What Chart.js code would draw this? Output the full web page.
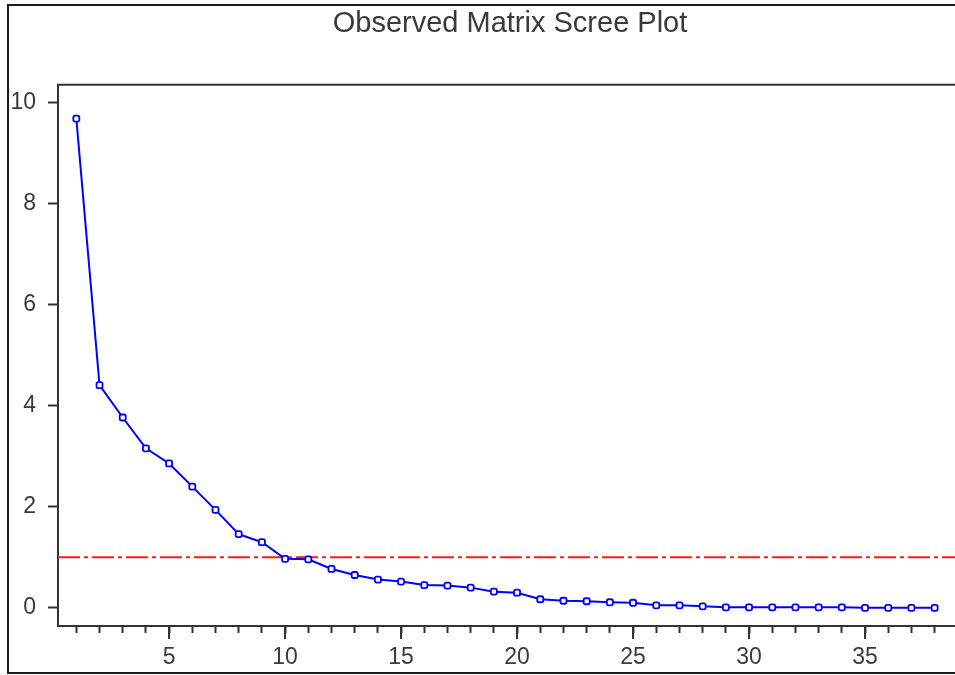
<!DOCTYPE html>
<html>
<head>
<meta charset="utf-8">
<title>Observed Matrix Scree Plot</title>
<script src="https://cdn.jsdelivr.net/npm/chart.js@4.4.1/dist/chart.umd.min.js"></script>
<style>
    html, body { margin: 0; padding: 0; overflow: hidden; background: #fff; width: 955px; height: 675px; }
    #frame { position: absolute; left: 7px; top: 4px; width: 1040px; height: 666px; border: 2px solid #1a1a1a; }
    #scree { position: absolute; left: 0; top: 0; }
</style>
</head>
<body>
<div id="frame"></div>
<canvas id="scree" width="1020" height="675"></canvas>
<script>
// ============ DATA ============

const components = [1, 2, 3, 4, 5, 6, 7, 8, 9, 10, 11, 12, 13, 14, 15, 16, 17, 18, 19,
    20, 21, 22, 23, 24, 25, 26, 27, 28, 29, 30, 31, 32, 33, 34, 35, 36, 37, 38];
const eigenvalues = [9.69, 4.41, 3.77, 3.16, 2.86, 2.40, 1.94, 1.46, 1.30, 0.97,
    0.96, 0.77, 0.65, 0.56, 0.52, 0.45, 0.44, 0.40, 0.32, 0.30,
    0.17, 0.14, 0.13, 0.11, 0.10, 0.05, 0.05, 0.03, 0.01, 0.01,
    0.01, 0.01, 0.01, 0.01, 0.00, 0.00, 0.00, 0.00];
const cutoff = 1;
const xLabelValues = [5, 10, 15, 20, 25, 30, 35];
const yTickValues = [0, 2, 4, 6, 8, 10];

const xMin = 0.21;
const xMax = 41.43;
const yMin = -0.36;
const yMax = 10.36;

// ============ STYLE ============

const fontFamily = "'Liberation Sans', Arial, sans-serif";
const axisColor = "#333333";
const textColor = "#3a3a3a";

// top edge of the box + longer marks under labelled x ticks
const framePlugin = {
    id: "frameExtras",
    afterDraw(chart) {
        const { ctx, chartArea, scales } = chart;
        ctx.save();
        ctx.strokeStyle = axisColor;
        ctx.lineWidth = 2;
        ctx.beginPath();
        ctx.moveTo(chartArea.left - 1, chartArea.top);
        ctx.lineTo(chartArea.right, chartArea.top);
        ctx.stroke();
        xLabelValues.forEach(v => {
            const px = Math.round(scales.x.getPixelForValue(v));
            ctx.beginPath();
            ctx.moveTo(px, chartArea.bottom);
            ctx.lineTo(px, chartArea.bottom + 13);
            ctx.stroke();
        });
        ctx.restore();
    }
};

// ============ CHART ============

const ctx = document.getElementById("scree").getContext("2d");

new Chart(ctx, {
    type: "line",
    data: {
        datasets: [
            {
                label: "Eigenvalue",
                data: components.map((c, i) => ({ x: c, y: eigenvalues[i] })),
                borderColor: "#0000ff",
                borderWidth: 2,
                pointStyle: "rectRounded",
                pointRadius: 3.5,
                pointBackgroundColor: "#ffffff",
                pointBorderColor: "#0000ff",
                pointBorderWidth: 1.8,
                tension: 0,
                order: 0,
            },
            {
                label: "Cutoff",
                data: [{ x: xMin, y: cutoff }, { x: xMax, y: cutoff }],
                borderColor: "#ff1a1a",
                borderWidth: 2,
                borderDash: [22, 4, 4, 4],
                pointRadius: 0,
                order: 1,
            }
        ]
    },
    options: {
        responsive: false,
        animation: false,
        layout: { padding: 0 },
        scales: {
            x: {
                type: "linear",
                min: xMin,
                max: xMax,
                afterBuildTicks: s => { s.ticks = components.map(v => ({ value: v })); },
                afterFit: s => { s.height = 49; },
                grid: { drawOnChartArea: false, tickLength: 7, tickColor: axisColor, tickWidth: 2 },
                border: { color: axisColor, width: 2 },
                ticks: {
                    autoSkip: false,
                    maxRotation: 0,
                    padding: 11,
                    color: textColor,
                    font: { family: fontFamily, size: 23 },
                    callback: v => xLabelValues.includes(v) ? String(v) : "",
                }
            },
            y: {
                min: yMin,
                max: yMax,
                afterBuildTicks: s => { s.ticks = yTickValues.map(v => ({ value: v })); },
                afterFit: s => { s.width = 58; },
                grid: { drawOnChartArea: false, tickLength: 10, tickColor: axisColor, tickWidth: 2 },
                border: { color: axisColor, width: 2 },
                ticks: {
                    padding: 12,
                    color: textColor,
                    font: { family: fontFamily, size: 23 },
                }
            }
        },
        plugins: {
            legend: { display: false },
            tooltip: { enabled: false },
            title: {
                display: true,
                text: "Observed Matrix Scree Plot",
                color: textColor,
                font: { family: fontFamily, size: 29, weight: "normal" },
                padding: { top: 7, bottom: 43 }
            }
        }
    },
    plugins: [framePlugin]
});
</script>
</body>
</html>
